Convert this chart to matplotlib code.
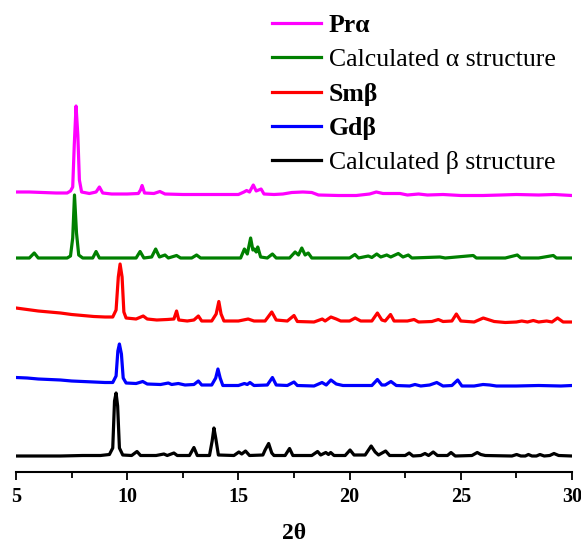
import matplotlib
matplotlib.use('Agg')
import matplotlib.pyplot as plt
import numpy as np
from matplotlib.ticker import MultipleLocator

plt.rcParams['font.family'] = ['Liberation Serif', 'DejaVu Serif']

# XRD patterns: 2theta and intensity (a.u., relative to each trace's base)
pr_alpha_x = [5.0, 5.6, 6.2, 6.8, 7.3, 7.45, 7.55, 7.62, 7.70, 7.78, 7.85, 7.95, 8.3, 8.6, 8.75, 8.9,
              9.3, 10.0, 10.5, 10.6, 10.67, 10.78, 11.2, 11.47, 11.7, 12.5, 13.3, 14.0, 15.0, 15.25,
              15.37, 15.5, 15.67, 15.8, 16.02, 16.15, 16.6, 17.0, 17.4, 17.9, 18.3, 18.6, 19.5, 20.3,
              20.9, 21.2, 21.5, 22.27, 22.6, 23.1, 23.5, 24.2, 25.0, 26.0, 26.8, 27.5, 28.5, 29.2, 30.0]
pr_alpha_y = [3, 3, 2.5, 2, 2, 4, 8, 50, 89, 60, 15, 3, 1.5, 3, 8, 2,
              1, 1, 1.5, 5, 9.5, 2, 1.5, 3.5, 1, 0.5, 0.5, 0.5, 0.5, 3,
              4.5, 3, 10, 4, 6, 1, 0.5, 1, 2.5, 3, 2.5, 0, -0.5, -0.5,
              1, 3, 1.5, 1.5, 0, 1, 0, 0.5, -0.5, -0.5, 0, 0.5, 0, 0.5, -0.5]

calc_alpha_x = [5.0, 5.6, 5.82, 6.0, 7.3, 7.45, 7.55, 7.63, 7.72, 7.82, 8.0, 8.45, 8.6, 8.75, 10.4,
                10.58, 10.75, 11.1, 11.28, 11.45, 11.7, 11.85, 12.22, 12.4, 12.9, 13.12, 13.3, 15.1,
                15.27, 15.4, 15.55, 15.65, 15.72, 15.8, 15.87, 16.0, 16.3, 16.53, 16.7, 17.3, 17.55,
                17.7, 17.85, 18.0, 18.14, 18.3, 20.0, 20.24, 20.4, 20.84, 21.0, 21.22, 21.4, 21.67,
                21.85, 22.19, 22.4, 22.64, 22.8, 24.06, 24.3, 25.56, 25.7, 27.0, 27.54, 27.7, 28.5,
                29.16, 29.3, 30.0]
calc_alpha_y = [0, 0, 5, 0, 0, 2, 20, 63, 25, 3, 0, 0, 6.5, 0, 0,
                6.5, 0, 1, 9, 1, 3, 0, 2.5, 0, 0, 3, 0, 0,
                9, 4, 20, 8, 9, 6, 11, 1, 0, 4, 0, 0, 6,
                3, 10, 3, 5, 0, 0, 3.5, 0, 2, 0.5, 4, 1, 3,
                1, 4.5, 1, 3, 0, 1, 0, 2.5, 0, 0, 3, 0, 0,
                2.5, 0, 0]

sm_beta_x = [5.0, 5.5, 6.0, 6.5, 7.0, 7.5, 8.0, 8.5, 9.0, 9.35, 9.5, 9.6, 9.68, 9.77, 9.85, 9.95,
             10.4, 10.72, 10.9, 11.33, 11.8, 12.1, 12.22, 12.32, 12.7, 13.0, 13.2, 13.35, 13.8, 14.0,
             14.12, 14.22, 14.35, 15.0, 15.44, 15.7, 16.2, 16.5, 16.7, 17.2, 17.5, 17.65, 18.4, 18.77,
             18.9, 19.16, 19.4, 19.6, 20.0, 20.25, 20.5, 21.0, 21.25, 21.45, 21.6, 21.84, 22.0, 22.6,
             22.9, 23.1, 23.7, 23.99, 24.2, 24.6, 24.8, 25.0, 25.6, 26.01, 26.5, 27.0, 27.5, 27.74,
             28.0, 28.26, 28.5, 28.86, 29.1, 29.35, 29.6, 30.0]
sm_beta_y = [14, 12.5, 11, 10, 9, 7.5, 6.5, 5.5, 5, 5, 12, 45, 58, 45, 10, 4,
             3, 6, 3, 2, 2.5, 3, 11, 2, 1, 2, 6, 1, 1, 8,
             20.5, 8, 1, 1, 3, 1, 1, 10, 2, 1, 6.5, 0.5, 0, 3,
             1, 5, 3, 1, 1, 4, 1, 1, 9, 2, 1, 7.5, 1, 1,
             2.5, 0, 0.5, 2.5, 0.5, 1, 8, 1, 0, 4, 0.5, -0.5, 0, 1,
             0, 1.5, 0, 1, 0, 4, 0, 0]

gd_beta_x = [5.0, 5.5, 6.0, 6.5, 7.0, 7.5, 8.0, 8.5, 9.0, 9.35, 9.5, 9.58, 9.65, 9.74, 9.82, 9.95,
             10.4, 10.7, 10.9, 11.5, 11.85, 12.0, 12.3, 12.6, 13.0, 13.2, 13.35, 13.8, 13.98, 14.08,
             14.18, 14.3, 15.0, 15.27, 15.4, 15.52, 15.7, 16.3, 16.53, 16.7, 17.2, 17.5, 17.65, 18.4,
             18.76, 18.95, 19.16, 19.4, 19.7, 20.3, 21.0, 21.25, 21.45, 21.6, 21.86, 22.1, 22.7, 22.94,
             23.2, 23.6, 23.92, 24.2, 24.6, 24.86, 25.05, 25.6, 26.0, 26.3, 26.6, 27.5, 28.5, 29.5, 30.0]
gd_beta_y = [8.5, 8, 7, 6.5, 6, 5, 4.5, 4, 3.5, 3.5, 10, 35, 42, 32, 8, 3,
             2.5, 4.5, 2, 1.5, 3, 1.5, 2.5, 1, 1.5, 5, 1, 1, 8, 17,
             8, 0.5, 0.5, 2.5, 1.5, 3.5, 0.5, 1, 8.5, 1, 0.5, 4, 0.5, 0,
             3.5, 1, 6, 2, 0.5, 0.5, 0.5, 6.5, 1, 1, 4.5, 0.5, 0, 1.5,
             0, 1, 3.5, 0, 0.5, 6, 0, 0, 1.5, 1, 0, 0, 0.5, 0, 0.5]

calc_beta_x = [5.0, 6.0, 7.0, 8.0, 8.8, 9.2, 9.35, 9.43, 9.5, 9.57, 9.65, 9.8, 10.2, 10.44, 10.6,
               11.3, 11.65, 11.8, 12.1, 12.25, 12.8, 13.0, 13.15, 13.7, 13.82, 13.9, 13.98, 14.1,
               14.8, 15.02, 15.15, 15.32, 15.5, 16.1, 16.2, 16.36, 16.5, 16.6, 17.1, 17.3, 17.45,
               18.3, 18.56, 18.7, 18.93, 19.05, 19.15, 19.3, 19.8, 20.02, 20.2, 20.7, 20.97, 21.15,
               21.3, 21.62, 21.8, 22.5, 22.68, 22.85, 23.2, 23.39, 23.55, 23.76, 23.95, 24.4, 24.56,
               24.75, 25.5, 25.74, 25.9, 26.1, 27.3, 27.51, 27.7, 27.9, 28.04, 28.2, 28.4, 28.56,
               28.75, 29.0, 29.19, 29.4, 30.0]
calc_beta_y = [0, 0, 0, 0.5, 0.5, 1.5, 8, 55, 63, 50, 8, 1, 0.5, 4.5, 0.5,
               0.5, 2, 0.5, 3, 0.5, 0.5, 8.5, 0.5, 0.5, 15, 28, 18, 1,
               0.5, 4, 2, 5, 0.5, 1, 6, 12.5, 3, 0.5, 0.5, 7.5, 0.5,
               0.5, 4.5, 1, 3.5, 1.5, 3.5, 0.5, 0.5, 6, 1, 1, 10, 4,
               1, 5, 0.5, 0.5, 3, 0, 0.5, 2.5, 0.5, 4, 0.5, 0.5, 3.5,
               0, 0.5, 3.5, 1.5, 0.5, 0, 1.5, 0, 0, 1.5, 0, 0, 1.5,
               0, 0.5, 2.5, 0.5, 0]

labels = ['Prα', 'Calculated α structure', 'Smβ', 'Gdβ', 'Calculated β structure']
bold_labels = ['Prα', 'Smβ', 'Gdβ']
colors = ['#ff00ff', '#008000', '#ff0000', '#0000ff', '#000000']
offsets = [277, 214, 150, 86, 16]  # vertical stacking

series = [(pr_alpha_x, pr_alpha_y), (calc_alpha_x, calc_alpha_y), (sm_beta_x, sm_beta_y),
          (gd_beta_x, gd_beta_y), (calc_beta_x, calc_beta_y)]

fig = plt.figure(figsize=(5.81, 5.45), dpi=100)
ax = fig.add_axes([16 / 581, 73 / 545, 556 / 581, 472 / 545])

for (xs, ys), off, c, lab in zip(series, offsets, colors, labels):
    ax.plot(xs, np.array(ys) + off, color=c, lw=2.3, label=lab, solid_joinstyle='round')

ax.set_xlim(5, 30)
ax.set_ylim(0, 472)
ax.xaxis.set_major_locator(MultipleLocator(5))
ax.xaxis.set_minor_locator(MultipleLocator(2.5))
ax.tick_params(axis='x', which='major', direction='out', length=6, width=1.3, pad=5, labelsize=14.5)
ax.tick_params(axis='x', which='minor', direction='out', length=4, width=1.3)
ax.set_yticks([])
for s in ['top', 'left', 'right']:
    ax.spines[s].set_visible(False)
ax.spines['bottom'].set_linewidth(1.5)
for t in ax.get_xticklabels():
    t.set_fontweight('bold')
ax.set_xlabel('2θ', fontsize=17, fontweight='bold', labelpad=11)
ax.patch.set_alpha(0)

leg = ax.legend(loc='upper left', bbox_to_anchor=(258 / 581, 1.0), bbox_transform=fig.transFigure,
                frameon=False, fontsize=18.5, handlelength=1.9, handletextpad=0.3,
                labelspacing=0.44, borderaxespad=0.15)
for t in leg.get_texts():
    if t.get_text() in bold_labels:
        t.set_fontweight('bold')

fig.savefig('out.png', dpi=100)
